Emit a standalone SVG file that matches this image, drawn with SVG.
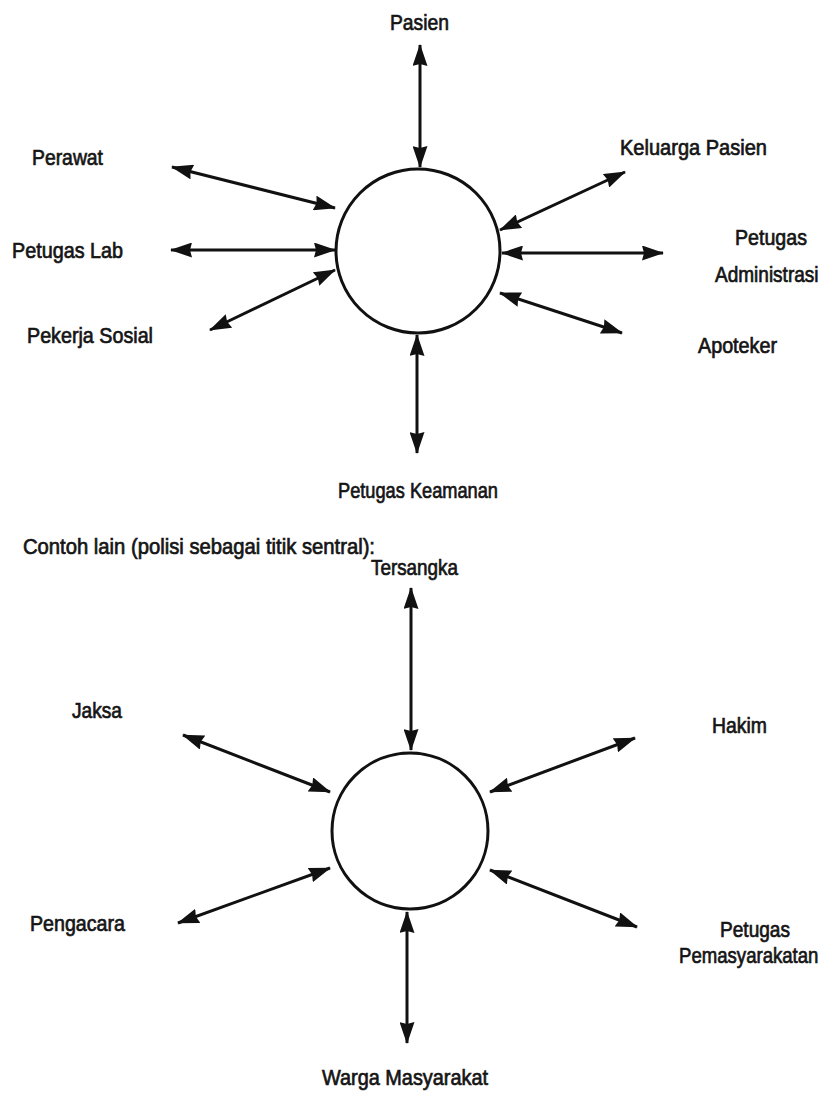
<svg xmlns="http://www.w3.org/2000/svg" width="828" height="1093" viewBox="0 0 828 1093">
  <style>
    .lbl { font-family: "Liberation Sans", Arial, sans-serif; font-size: 22px; fill: #151515; stroke: #151515; stroke-width: 0.7; }
    .hub { fill: #fff; stroke: #111; stroke-width: 3; }
    .link { stroke: #111; stroke-width: 3; fill: none; marker-start: url(#head); marker-end: url(#head); }
  </style>
  <defs>
    <!-- filled arrowhead used at both ends of every two-way link -->
    <marker id="head" viewBox="0 0 22 15" markerWidth="22" markerHeight="15" refX="21" refY="7.5" orient="auto-start-reverse" markerUnits="userSpaceOnUse">
      <path d="M0,0 L22,7.5 L0,15 L2,7.5 z" fill="#111"/>
    </marker>
  </defs>
  <rect width="828" height="1093" fill="#fff"/>

  <!-- first example: hospital -->
  <g id="hub-rumah-sakit"><circle class="hub" cx="418" cy="251" r="82"/></g>
  <g id="pasien"><text class="lbl" x="390" y="30" textLength="59" lengthAdjust="spacingAndGlyphs">Pasien</text></g>
  <g id="perawat"><text class="lbl" x="32" y="165" textLength="71" lengthAdjust="spacingAndGlyphs">Perawat</text></g>
  <g id="petugas-lab"><text class="lbl" x="12" y="258" textLength="111" lengthAdjust="spacingAndGlyphs">Petugas Lab</text></g>
  <g id="pekerja-sosial"><text class="lbl" x="27" y="343" textLength="126" lengthAdjust="spacingAndGlyphs">Pekerja Sosial</text></g>
  <g id="keluarga-pasien"><text class="lbl" x="620" y="155" textLength="147" lengthAdjust="spacingAndGlyphs">Keluarga Pasien</text></g>
  <g id="petugas-administrasi">
    <text class="lbl" x="735" y="245" textLength="72" lengthAdjust="spacingAndGlyphs">Petugas</text>
    <text class="lbl" transform="translate(715,282) scale(0.865,1)">Administrasi</text>
  </g>
  <g id="apoteker"><text class="lbl" x="698" y="353" textLength="79" lengthAdjust="spacingAndGlyphs">Apoteker</text></g>
  <g id="petugas-keamanan"><text class="lbl" x="338" y="498" textLength="160" lengthAdjust="spacingAndGlyphs">Petugas Keamanan</text></g>

  <g id="caption"><text class="lbl" x="23" y="554" textLength="352" lengthAdjust="spacingAndGlyphs">Contoh lain (polisi sebagai titik sentral):</text></g>

  <!-- second example: police -->
  <g id="hub-polisi"><circle class="hub" cx="410" cy="831" r="78"/></g>
  <g id="tersangka"><text class="lbl" x="371" y="575" textLength="87" lengthAdjust="spacingAndGlyphs">Tersangka</text></g>
  <g id="jaksa"><text class="lbl" x="72" y="718" textLength="50" lengthAdjust="spacingAndGlyphs">Jaksa</text></g>
  <g id="hakim"><text class="lbl" x="712" y="733" textLength="55" lengthAdjust="spacingAndGlyphs">Hakim</text></g>
  <g id="petugas-pemasyarakatan">
    <text class="lbl" x="720" y="937" textLength="70" lengthAdjust="spacingAndGlyphs">Petugas</text>
    <text class="lbl" transform="translate(679,963) scale(0.845,1)">Pemasyarakatan</text>
  </g>
  <g id="pengacara"><text class="lbl" x="30" y="931" textLength="95" lengthAdjust="spacingAndGlyphs">Pengacara</text></g>
  <g id="warga-masyarakat"><text class="lbl" x="322" y="1085" textLength="166" lengthAdjust="spacingAndGlyphs">Warga Masyarakat</text></g>

  <g id="connectors">
    <!-- hospital links -->
    <line class="link" x1="420" y1="45" x2="420" y2="167"/>
    <line class="link" x1="172" y1="167" x2="335" y2="208"/>
    <line class="link" x1="171" y1="250" x2="335" y2="250"/>
    <line class="link" x1="210" y1="330" x2="335" y2="270"/>
    <line class="link" x1="625" y1="172" x2="500" y2="230"/>
    <line class="link" x1="663" y1="253" x2="502" y2="253"/>
    <line class="link" x1="622" y1="333" x2="500" y2="293"/>
    <line class="link" x1="417" y1="453" x2="417" y2="335"/>
    <!-- police links -->
    <line class="link" x1="411" y1="588" x2="411" y2="750"/>
    <line class="link" x1="183" y1="735" x2="330" y2="792"/>
    <line class="link" x1="635" y1="738" x2="490" y2="792"/>
    <line class="link" x1="178" y1="923" x2="330" y2="868"/>
    <line class="link" x1="637" y1="927" x2="490" y2="870"/>
    <line class="link" x1="407" y1="1043" x2="407" y2="912"/>
  </g>
</svg>
